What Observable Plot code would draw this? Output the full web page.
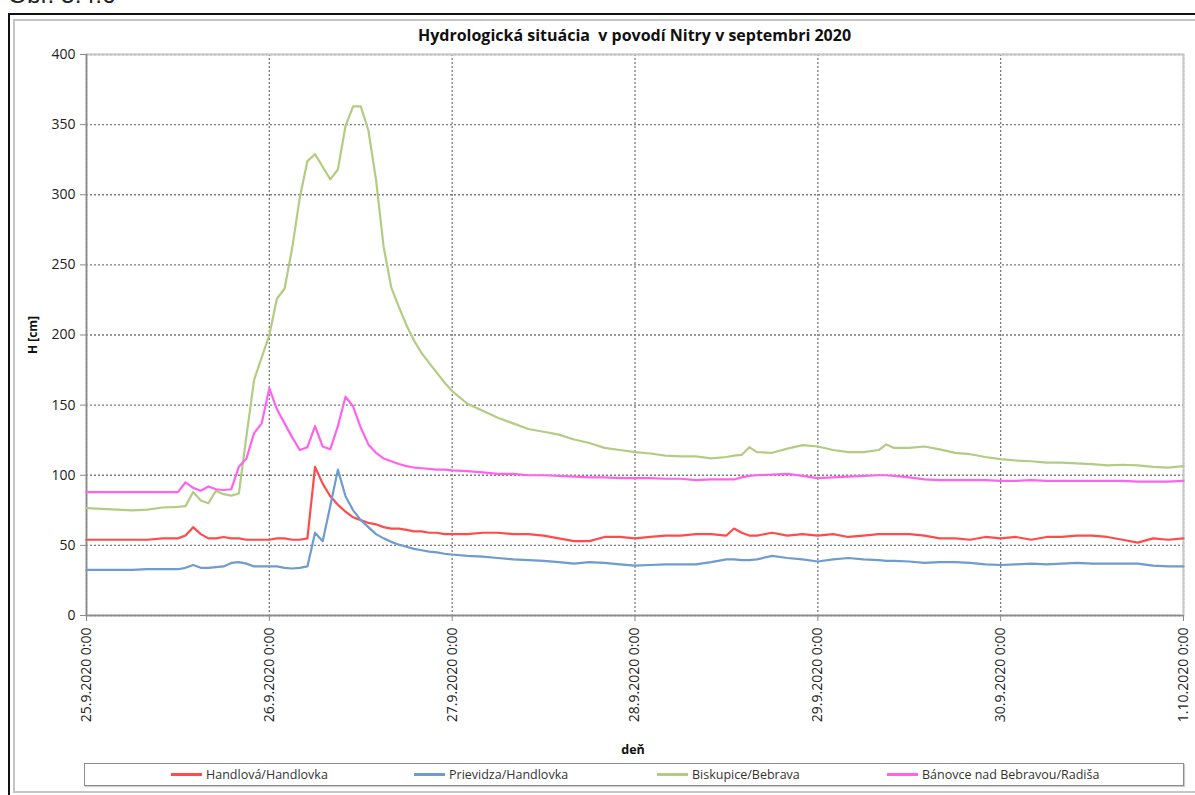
<!DOCTYPE html>
<html>
<head>
<meta charset="utf-8">
<script src="https://cdn.jsdelivr.net/npm/d3@7"></script>
<script src="https://cdn.jsdelivr.net/npm/@observablehq/plot@0.6"></script>
<style>
  html, body { margin: 0; padding: 0; background: #fff; overflow: hidden; }
  #wrap { position: relative; width: 1195px; height: 795px; overflow: hidden; font-family: "Open Sans", "Liberation Sans", sans-serif; }
  #wrap svg { position: absolute; left: 0; top: 0; }
  .abs { position: absolute; pointer-events: none; }
  #fig { left: 8px; top: -17px; font-family: "Liberation Sans", Arial, sans-serif; font-size: 24.5px; line-height: 24.5px; color: #222; white-space: nowrap; }
  #outer { left: 8px; top: 13px; width: 1200px; height: 800px; border: 2px solid #111; box-sizing: border-box; }
  #inner { left: 13px; top: 19px; width: 1200px; height: 774px; border: 2px solid #c4c4c4; box-sizing: border-box; }
  #title { left: 86px; width: 1097px; top: 24px; text-align: center; font-weight: bold; font-size: 16px; color: #111; white-space: pre; }
  #ylab { left: 32px; top: 335px; transform: translate(-50%, -50%) rotate(-90deg); font-weight: bold; font-size: 12px; color: #111; white-space: nowrap; }
  #xlab { left: 633px; top: 749px; transform: translate(-50%, -50%); font-weight: bold; font-size: 12.5px; color: #111; }
  #legend { left: 84px; top: 763px; width: 1100px; height: 23px; border: 1px solid #8c8c8c; box-sizing: border-box; background: #fff; box-shadow: 1px 1px 1px #ccc; }
  .item { position: absolute; top: 0; height: 21px; display: flex; align-items: center; font-size: 12.5px; color: #333; white-space: nowrap; }
  .sw { display: inline-block; width: 31px; height: 3px; margin-right: 4px; }
</style>
</head>
<body>
<div id="wrap"></div>
<script>
// Hours since 25.9.2020 0:00
const hours = [0,2,4,6,8,10,12,
  13,14,15,16,17,18,19,20,21,22,23,24,
  25,26,27,28,29,30,31,32,33,34,35,36,
  37,38,39,40,41,42,43,44,45,46,47,48,
  50,52,54,56,58,60,62,64,66,68,70,72,74,76,78,80,82,84,
  85,86,87,88,
  90,92,94,96,98,100,102,104,
  105,
  106,108,110,112,114,116,118,120,122,124,126,128,130,132,134,136,138,140,142,144];

const seriesNames = ["Handlová/Handlovka", "Prievidza/Handlovka", "Biskupice/Bebrava", "Bánovce nad Bebravou/Radiša"];
const seriesColors = ["#ff4b4b", "#6e9bd0", "#b2cd82", "#ff63ee"];

const handlova = [54,54,54,54,54,55,55,
  57,63,58,55,55,56,55,55,54,54,54,54,
  55,55,54,54,55,106,94,85,79,74,70,68,
  66,65,63,62,62,61,60,60,59,59,58,58,
  58,59,59,58,58,57,55,53,53,56,56,55,56,57,57,58,58,57,
  62,59,57,57,
  59,57,58,57,58,56,57,58,
  58,
  58,58,57,55,55,54,56,55,56,54,56,56,57,57,56,54,52,55,54,55];

const prievidza = [32.5,32.5,32.5,32.5,33,33,33,
  34,36,34,34,34.5,35,37.5,38,37,35,35,35,
  35,34,33.5,34,35,59,53,78,104,85,75,68,
  63,58,55,52.5,50.5,49,47.5,46.5,45.5,45,44,43.5,
  42.5,42,41,40,39.5,39,38,37,38,37.5,36.5,35.5,36,36.5,36.5,36.5,38,40,
  40,39.5,39.5,40,
  42.5,41,40,38.5,40,41,40,39.5,
  39,
  39,38.5,37.5,38,38,37.5,36.5,36,36.5,37,36.5,37,37.5,37,37,37,37,35.5,35,35];

const biskupice = [76.5,76,75.5,75,75.5,77,77.5,
  78,88,82,80,89,86.5,85.5,87,128,168,184,200,
  226,233,262,298,324,329,320,311,318,349,363,363,
  346,311,263,234,220,207,196,187,180,173,166,160,
  151,146,141,137,133,131,129,125.5,123,119.5,118,116.5,115.5,114,113.5,113.5,112,113,
  114,114.5,120,116.5,
  116,119,121.5,120.5,118,116.5,116.5,118,
  122,
  119.5,119.5,120.5,118.5,116,115,113,111.5,110.5,110,109,109,108.5,108,107,107.5,107,106,105.5,106.5];

const banovce = [88,88,88,88,88,88,88,
  95,91,89,92,90,89.5,90,106,112,130,137,162,
  147,137,127,118,120,135,120.5,118.5,135,156,149,134,
  122,116,112,110,108,106.5,105.5,105,104.5,104,104,103.5,
  103,102,101,101,100,100,99.5,99,98.5,98.5,98,98,98,97.5,97.5,96.5,97,97,
  97,98.5,99.5,100,
  100.5,101,99.5,98,98.5,99,99.5,100,
  100,
  99.5,98.5,97,96.5,96.5,96.5,96.5,96,96,96.5,96,96,96,96,96,96,95.5,95.5,95.5,96];

const yTicks = [0,50,100,150,200,250,300,350,400];
const dayTicks = [25,26,27,28,29,30,31]; // days from 25.9.2020 (31 -> 1.10.2020)

const allSeries = [handlova, prievidza, biskupice, banovce];
const toDate = h => new Date(2020, 8, 25, h);
const table = [];
allSeries.forEach((vals, i) => {
  vals.forEach((v, j) => table.push({date: toDate(hours[j]), value: v, series: seriesNames[i]}));
});
const xTicks = dayTicks.map(d => new Date(2020, 8, d));
const fmt = d => `${d.getDate()}.${d.getMonth() + 1}.${d.getFullYear()} 0:00`;

const plot = Plot.plot({
  width: 1195,
  height: 795,
  marginLeft: 86,
  marginRight: 12,
  marginTop: 54,
  marginBottom: 180,
  style: {background: "transparent", fontFamily: "'Open Sans', 'Liberation Sans', sans-serif", fontSize: "14px", color: "#222"},
  x: {type: "time", domain: [xTicks[0], xTicks[xTicks.length - 1]]},
  y: {domain: [0, 400]},
  color: {domain: seriesNames, range: seriesColors},
  marks: [
    Plot.gridY(yTicks, {stroke: "#7a7a7a", strokeOpacity: 1, strokeDasharray: "2,2", strokeWidth: 1.3}),
    Plot.gridX(xTicks, {stroke: "#7a7a7a", strokeOpacity: 1, strokeDasharray: "2,2", strokeWidth: 1.3}),
    Plot.frame({stroke: "#c6c6c6", strokeWidth: 2}),
    Plot.ruleX([xTicks[0]], {stroke: "#8a8a8a", strokeWidth: 1.5}),
    Plot.ruleY([0], {stroke: "#8a8a8a", strokeWidth: 1.5}),
    Plot.axisY(yTicks, {tickSize: 6, tickPadding: 5, stroke: "#8a8a8a", label: null, fontSize: 14}),
    Plot.axisX(xTicks, {tickFormat: fmt, tickRotate: -90, tickSize: 6, tickPadding: 6, stroke: "#8a8a8a", label: null, fontSize: 14}),
    Plot.line(table, {x: "date", y: "value", z: "series", stroke: "series", strokeWidth: 2.2, strokeLinejoin: "round"})
  ]
});

const wrap = document.getElementById("wrap");
wrap.appendChild(plot);

function addDiv(id, text, cls) {
  const d = document.createElement("div");
  d.id = id; d.className = "abs" + (cls ? " " + cls : "");
  if (text != null) d.textContent = text;
  wrap.appendChild(d);
  return d;
}
addDiv("fig", "Obr. 5.4.6");
addDiv("outer");
addDiv("inner");
addDiv("title", "Hydrologická situácia  v povodí Nitry v septembri 2020");
addDiv("ylab", "H [cm]");
addDiv("xlab", "deň");
const leg = addDiv("legend");
const itemLeft = [86, 329, 572, 802]; // relative to legend box
seriesNames.forEach((name, i) => {
  const it = document.createElement("div");
  it.className = "item";
  it.style.left = itemLeft[i] + "px";
  const sw = document.createElement("span");
  sw.className = "sw";
  sw.style.background = seriesColors[i];
  it.appendChild(sw);
  it.appendChild(document.createTextNode(name));
  leg.appendChild(it);
});
</script>
</body>
</html>
